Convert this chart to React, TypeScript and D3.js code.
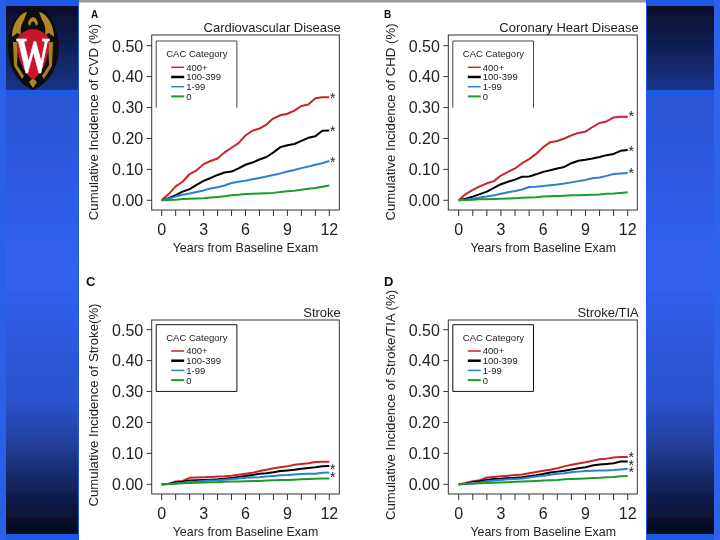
import React from "react";
import * as d3 from "d3";

const years = [0,0.5,1,1.5,2,2.5,3,3.5,4,4.5,5,5.5,6,6.5,7,7.5,8,8.5,9,9.5,10,10.5,11,11.5,12];
const xTicks = [0,1,2,3,4,5,6,7,8,9,10,11,12];
const xTickLabels = [0,3,6,9,12];
const yTicks = [0,0.1,0.2,0.3,0.4,0.5];
const categories = ["400+","100-399","1-99","0"];
const colors = ["#cc2229","#000000","#2f7fd0","#1f9a2e"];
const legendWidths = [1.5,2.5,1.5,2];

const cvd = [
  [0,.02,.045,.06,.085,.097,.117,.127,.135,.155,.17,.185,.21,.225,.232,.245,.265,.275,.28,.29,.305,.31,.33,.333,.333],
  [0,.007,.017,.028,.036,.05,.063,.072,.082,.09,.093,.103,.115,.122,.132,.14,.155,.172,.178,.182,.192,.202,.207,.225,.226],
  [0,.005,.012,.018,.022,.027,.032,.038,.042,.048,.056,.06,.063,.068,.072,.077,.082,.087,.093,.098,.104,.109,.115,.12,.127],
  [0,.001,.002,.004,.005,.006,.007,.009,.011,.013,.016,.018,.02,.021,.022,.023,.024,.027,.029,.031,.034,.037,.04,.044,.048],
];
const chd = [
  [0,.02,.034,.045,.055,.062,.08,.092,.103,.12,.133,.15,.172,.188,.192,.2,.21,.218,.222,.237,.25,.255,.268,.27,.27],
  [0,.005,.012,.02,.028,.04,.052,.06,.067,.076,.077,.084,.092,.097,.103,.108,.12,.128,.131,.135,.14,.146,.15,.16,.163],
  [0,.002,.005,.009,.012,.016,.021,.026,.03,.035,.043,.044,.046,.049,.051,.054,.058,.062,.066,.071,.074,.079,.085,.087,.088],
  [0,.001,.002,.003,.003,.004,.005,.006,.007,.008,.009,.01,.012,.013,.014,.015,.016,.016,.017,.018,.019,.021,.022,.024,.026],
];
const stroke = [
  [0,.002,.009,.011,.021,.022,.023,.024,.025,.026,.028,.031,.034,.037,.043,.047,.052,.055,.058,.063,.066,.068,.072,.073,.073],
  [0,.001,.006,.008,.012,.013,.014,.015,.016,.018,.02,.024,.027,.03,.034,.036,.039,.043,.045,.047,.05,.053,.055,.058,.059],
  [0,.001,.003,.005,.008,.009,.011,.012,.013,.015,.017,.019,.021,.022,.023,.025,.027,.029,.03,.032,.033,.034,.034,.037,.038],
  [0,.001,.002,.003,.004,.005,.006,.007,.007,.008,.009,.009,.01,.011,.011,.012,.013,.014,.014,.015,.016,.017,.018,.019,.019],
];
const strokeTia = [
  [0,.004,.01,.013,.022,.024,.026,.028,.03,.032,.036,.04,.044,.047,.052,.058,.063,.067,.071,.076,.081,.083,.087,.088,.088],
  [0,.002,.007,.01,.014,.017,.018,.02,.021,.023,.026,.029,.033,.038,.041,.044,.048,.052,.055,.061,.064,.066,.068,.074,.074],
  [0,.001,.004,.006,.01,.012,.014,.016,.017,.019,.022,.025,.028,.031,.034,.036,.039,.041,.043,.044,.045,.045,.046,.048,.05],
  [0,.001,.002,.003,.004,.005,.006,.007,.008,.009,.01,.011,.012,.013,.014,.016,.017,.018,.019,.02,.021,.023,.024,.026,.027],
];
const starsA = [.341,.234,.134];
const starsB = [.282,.170,.098];
const starsC = [.06,.034];
const starsD = [.098,.072,.05];

const FONT = "'Liberation Sans', Arial, sans-serif";
const TEXT = "#222";

type PanelProps = {
  letter: string; title: string; yLabel: string; series: number[][]; stars: number[];
  frameX: number; frameW: number; frameY: number; frameH: number;
  x0: number; x12: number; y0: number; y5: number; cutLegend: boolean; letterX: number; letterY: number; letterSize: number; yLabelSize: number; yLabelX: number;
};

function Panel(p: PanelProps) {
  const x = d3.scaleLinear().domain([0, 12]).range([p.x0, p.x12]);
  const y = d3.scaleLinear().domain([0, 0.5]).range([p.y0, p.y5]);
  const line = d3.line<number>().x((_, i) => x(years[i])).y((d) => y(d));
  const bottom = p.frameY + p.frameH;
  const right = p.frameX + p.frameW;
  const lx = p.frameX + 4.5;
  const ly = p.frameY + (p.cutLegend ? 6 : 4.7);
  const legendH = 66.7;
  const yMid = p.frameY + p.frameH / 2 - (p.cutLegend ? -0.5 : 1);
  return (
    <g fontFamily={FONT} fill={TEXT}>
      <text x={p.letterX} y={p.letterY} fontSize={p.letterSize} fontWeight="bold" fill="#111">{p.letter}</text>
      <text x={right + 1.5} y={p.frameY - 3.5} textAnchor="end" fontSize={13}>{p.title}</text>
      <text transform={`translate(${p.yLabelX},${yMid - 1}) rotate(-90)`} textAnchor="middle" fontSize={p.yLabelSize}>{p.yLabel}</text>
      <rect x={p.frameX} y={p.frameY} width={p.frameW} height={p.frameH} fill="#fff" stroke="#333" strokeWidth={1} />
      {yTicks.map((t) => (
        <g key={t}>
          <line x1={p.frameX - 5} x2={p.frameX} y1={y(t)} y2={y(t)} stroke="#333" />
          <text x={p.frameX - 8.5} y={y(t) + 5.8} textAnchor="end" fontSize={16}>{t.toFixed(2)}</text>
        </g>
      ))}
      {xTicks.map((t) => (
        <line key={t} x1={x(t)} x2={x(t)} y1={bottom} y2={bottom + 6} stroke="#333" />
      ))}
      {xTickLabels.map((t) => (
        <text key={t} x={x(t)} y={bottom + 24.5} textAnchor="middle" fontSize={16}>{t}</text>
      ))}
      <text x={(p.x0 + p.x12) / 2} y={bottom + 41.5} textAnchor="middle" fontSize={12.4}>Years from Baseline Exam</text>
      <g>
        <path
          d={p.cutLegend
            ? `M${lx},${ly + legendH}V${ly}H${lx + 80.7}V${ly + legendH}`
            : `M${lx},${ly}H${lx + 80.7}V${ly + legendH}H${lx}Z`}
          fill="#fff" stroke={p.cutLegend ? "#444" : "#111"} strokeWidth={1}
        />
        <text x={lx + 10} y={ly + 16} fontSize={9.5}>CAC Category</text>
        {categories.map((c, i) => {
          const iy = ly + 26.3 + i * 9.7;
          return (
            <g key={c}>
              <line x1={lx + 15} x2={lx + 28} y1={iy} y2={iy} stroke={colors[i]} strokeWidth={legendWidths[i]} />
              <text x={lx + 30} y={iy + 3.4} fontSize={9.5}>{c}</text>
            </g>
          );
        })}
      </g>
      {p.series.map((s, i) => (
        <path key={i} d={line(s) ?? ""} fill="none" stroke={colors[i]} strokeWidth={2} strokeLinejoin="round" />
      ))}
      {p.stars.map((v, i) => (
        <text key={i} x={p.x12 + 3.5} y={y(v) + 8} fontSize={14} textAnchor="middle" fill="#222">*</text>
      ))}
    </g>
  );
}

function Logo() {
  return (
    <g>
      <path d="M33,6 C46,8 58,22 59,46 C59,68 48,84 33,90 C18,84 8,68 8,46 C9,22 20,8 33,6Z" fill="#0c0a08" />
      <path d="M12,37 C12,24 20,13 27,12 L24,20 C21,24 20,30 21,35 L17,33Z M54,37 C54,24 46,13 39,12 L42,20 C45,24 46,30 45,35 L49,33Z" fill="#b08828" />
      <path d="M28,24 C29,15 37,15 38,24 L36,26 C35,20 31,20 30,26Z" fill="#b08828" />
      <path d="M13,42 L18,42 L17,65 L24,76 L22,79 L14,66Z M53,42 L48,42 L49,65 L42,76 L44,79 L52,66Z" fill="#a88020" />
      <path d="M33,88 L29,82 L33,78 L37,82Z" fill="#b08828" />
      <path d="M17,38 C22,32 28,29 33,29 C38,29 44,32 49,38 C50,55 44,72 33,80 C22,72 16,55 17,38Z" fill="#c8152c" />
      <text x={33} y={72} textAnchor="middle" fontFamily="'Liberation Serif', serif" fontWeight="bold" fontSize={50} fill="#fff" stroke="#fff" strokeWidth={0.5} textLength={34} lengthAdjust="spacingAndGlyphs">W</text>
    </g>
  );
}

export default function App() {
  return (
    <svg width={720} height={540} viewBox="0 0 720 540" style={{ position: "absolute", left: 0, top: 0, display: "block" }}>
      <defs>
        <linearGradient id="topBand" x1="0" x2="0" y1="0" y2="1">
          <stop offset="0" stopColor="#070d28" />
          <stop offset="1" stopColor="#1a3488" />
        </linearGradient>
        <linearGradient id="lowBand" x1="0" x2="0" y1="0" y2="1">
          <stop offset="0" stopColor="#2a54d4" />
          <stop offset="0.4" stopColor="#3160f0" />
          <stop offset="0.7" stopColor="#2a52cc" />
          <stop offset="0.79" stopColor="#23409c" />
          <stop offset="1" stopColor="#030718" />
        </linearGradient>
        <filter id="soft" x="0" y="0" width="100%" height="100%">
          <feGaussianBlur stdDeviation="0.35" />
        </filter>
      </defs>
      <g filter="url(#soft)">
      <rect width={720} height={540} fill="#1f5ae6" />
      <rect x={6} y={6} width={72} height={84} fill="url(#topBand)" />
      <rect x={6} y={96} width={72} height={438} fill="url(#lowBand)" />
      <rect x={647} y={6} width={67} height={84} fill="url(#topBand)" />
      <rect x={647} y={96} width={67} height={438} fill="url(#lowBand)" />
      <rect x={0} y={0} width={6} height={540} fill="#2a5ee8" />
      <rect x={714} y={0} width={6} height={540} fill="#2f62ea" />
      <rect x={79} y={0} width={567} height={540} fill="#fff" />
      <rect x={79} y={0} width={567} height={2.5} fill="#9a9a9a" />
      <Logo />
      <Panel letter="A" title="Cardiovascular Disease" yLabel="Cumulative Incidence of CVD (%)" series={cvd} stars={starsA}
        frameX={151.7} frameW={187.6} frameY={35} frameH={175} x0={161.7} x12={329.3} y0={200.3} y5={45.7} cutLegend letterX={91} letterY={18} letterSize={10} yLabelSize={13.2} yLabelX={98} />
      <Panel letter="B" title="Coronary Heart Disease" yLabel="Cumulative Incidence of CHD (%)" series={chd} stars={starsB}
        frameX={448.3} frameW={189} frameY={35} frameH={175} x0={458.7} x12={627.7} y0={200.3} y5={45.7} cutLegend letterX={384} letterY={18} letterSize={10} yLabelSize={13.2} yLabelX={395} />
      <Panel letter="C" title="Stroke" yLabel="Cumulative Incidence of Stroke(%)" series={stroke} stars={starsC}
        frameX={151.7} frameW={187.6} frameY={320} frameH={174} x0={161.7} x12={329.3} y0={484.3} y5={329.7} cutLegend={false} letterX={86} letterY={286} letterSize={13} yLabelSize={13.2} yLabelX={98} />
      <Panel letter="D" title="Stroke/TIA" yLabel="Cumulative Incidence of Stroke/TIA (%)" series={strokeTia} stars={starsD}
        frameX={448.3} frameW={189} frameY={320} frameH={174} x0={458.7} x12={627.7} y0={484.3} y5={329.7} cutLegend={false} letterX={384} letterY={286} letterSize={13} yLabelSize={13.2} yLabelX={395} />
      </g>
    </svg>
  );
}
